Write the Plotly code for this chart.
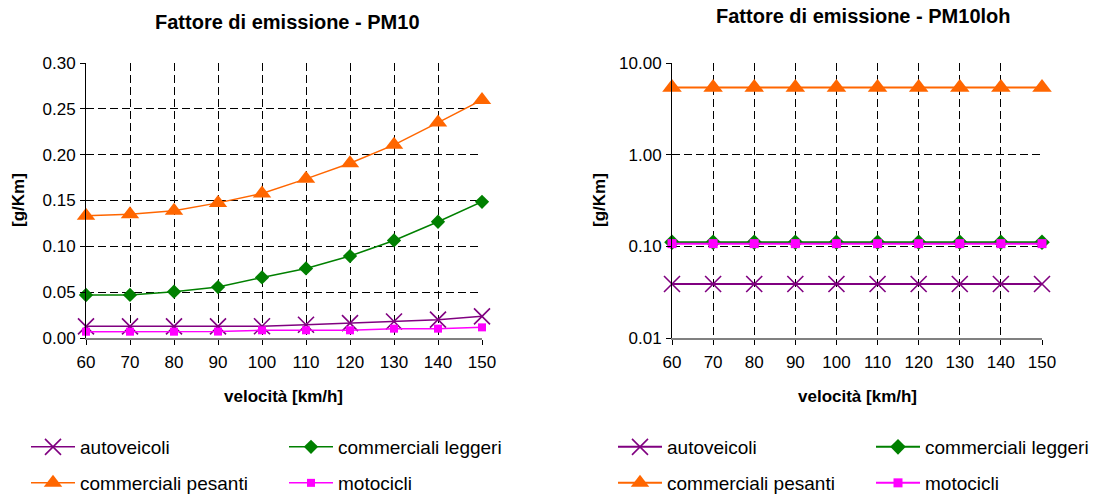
import plotly.graph_objects as go

# ---------------- data ----------------
speeds = [60, 70, 80, 90, 100, 110, 120, 130, 140, 150]
series_names = ["autoveicoli", "commerciali leggeri", "commerciali pesanti", "motocicli"]

pm10_autoveicoli = [0.0127, 0.0127, 0.0127, 0.0127, 0.0128, 0.0145, 0.0163, 0.0180, 0.0200, 0.0236]
pm10_comm_leggeri = [0.0469, 0.0470, 0.0505, 0.0556, 0.0661, 0.0759, 0.0894, 0.1064, 0.1268, 0.1486]
pm10_comm_pesanti = [0.1333, 0.1350, 0.1387, 0.1474, 0.1576, 0.1736, 0.1907, 0.2107, 0.2350, 0.2597]
pm10_motocicli = [0.0069, 0.0069, 0.0069, 0.0070, 0.0084, 0.0084, 0.0084, 0.0102, 0.0102, 0.0116]

loh_autoveicoli = [0.0388] * 10
loh_comm_leggeri = [0.111] * 10
loh_comm_pesanti = [5.42] * 10
loh_motocicli = [0.107] * 10

left_y_ticks = [0.0, 0.05, 0.10, 0.15, 0.20, 0.25, 0.30]
right_y_ticks = [0.01, 0.1, 1, 10]
right_y_ticktext = ["0.01", "0.10", "1.00", "10.00"]

title_left = "Fattore di emissione - PM10"
title_right = "Fattore di emissione - PM10loh"
x_title = "velocità [km/h]"
y_title = "[g/Km]"

# ---------------- styles ----------------
FONT = "Arial, 'Liberation Sans', sans-serif"
colors = ["#800080", "#008000", "#FF6600", "#FF00FF"]
symbols = ["x-thin", "diamond", "triangle-up", "square"]
sizes_left = [16, 11, 16, 8]
sizes_right = [16, 12, 17, 9]

W, H = 1107, 496
def px_x(p):
    return p / W
def px_y(p):
    return 1 - p / H

fig = go.Figure()

left_data = [pm10_autoveicoli, pm10_comm_leggeri, pm10_comm_pesanti, pm10_motocicli]
right_data = [loh_autoveicoli, loh_comm_leggeri, loh_comm_pesanti, loh_motocicli]

legend_ids_left = ["legend", "legend2", "legend3", "legend4"]
legend_ids_right = ["legend5", "legend6", "legend7", "legend8"]

def marker_for(i, size):
    if symbols[i] == "x-thin":
        return dict(symbol="x-thin", size=size, color=colors[i],
                    line=dict(color=colors[i], width=1.6))
    return dict(symbol=symbols[i], size=size, color=colors[i],
                line=dict(width=0))

for i, name in enumerate(series_names):
    fig.add_trace(go.Scatter(
        x=speeds, y=left_data[i], name=name, mode="lines+markers",
        line=dict(color=colors[i], width=1.5),
        marker=marker_for(i, sizes_left[i]),
        xaxis="x", yaxis="y", cliponaxis=False,
        legend=legend_ids_left[i], showlegend=True,
    ))
for i, name in enumerate(series_names):
    fig.add_trace(go.Scatter(
        x=speeds, y=right_data[i], name=name, mode="lines+markers",
        line=dict(color=colors[i], width=2),
        marker=marker_for(i, sizes_right[i]),
        xaxis="x2", yaxis="y2", cliponaxis=False,
        legend=legend_ids_right[i], showlegend=True,
    ))

axis_common = dict(
    showgrid=True, gridcolor="black", gridwidth=1, griddash="8px,4px",
    zeroline=False, ticks="outside", ticklen=5, tickcolor="black",
    tickfont=dict(family=FONT, size=17, color="black"),
    automargin=False,
)

y_dom = [px_y(338), px_y(63)]
fig.update_layout(
    width=W, height=H,
    margin=dict(l=0, r=0, t=0, b=0, pad=0, autoexpand=False),
    showlegend=True,
    paper_bgcolor="white", plot_bgcolor="white",
    font=dict(family=FONT, color="black"),
    xaxis=dict(domain=[px_x(86), px_x(482)], range=[60, 150], tickvals=speeds,
               showline=True, linecolor="#808080", linewidth=2, anchor="y",
               ticklabelstandoff=3, **axis_common),
    yaxis=dict(domain=y_dom, range=[0, 0.30], tickvals=left_y_ticks, tickformat=".2f",
               showline=True, linecolor="black", linewidth=1, anchor="x",
               ticklabelstandoff=1, **axis_common),
    xaxis2=dict(domain=[px_x(672), px_x(1042)], range=[60, 150], tickvals=speeds,
                showline=True, linecolor="#808080", linewidth=2, anchor="y2",
                ticklabelstandoff=3, **axis_common),
    yaxis2=dict(domain=y_dom, type="log", range=[-2, 1], tickvals=right_y_ticks,
                ticktext=right_y_ticktext,
                showline=True, linecolor="black", linewidth=1, anchor="x2",
                ticklabelstandoff=1, **axis_common),
)

# legends (one per entry, laid out as a 2x2 grid under each chart)
leg_font = dict(family=FONT, size=19, color="black")
ITEM_W = 44
text_x = [80, 338, 80, 338]
row_y = [447, 447, 483, 483]
for i in range(4):
    for ids, off in ((legend_ids_left, 0), (legend_ids_right, 587)):
        fig.layout[ids[i]] = dict(
            x=px_x(text_x[i] + off - (ITEM_W + 10)), y=px_y(row_y[i]),
            xanchor="left", yanchor="middle",
            font=leg_font, bgcolor="rgba(0,0,0,0)", borderwidth=0,
            orientation="v", itemwidth=ITEM_W, visible=True,
        )

ann = []
ann.append(dict(text="<b>%s</b>" % title_left, x=px_x(287), y=px_y(22), xref="paper", yref="paper",
                showarrow=False, xanchor="center", yanchor="middle",
                font=dict(family=FONT, size=20, color="black")))
ann.append(dict(text="<b>%s</b>" % title_right, x=px_x(863), y=px_y(16), xref="paper", yref="paper",
                showarrow=False, xanchor="center", yanchor="middle",
                font=dict(family=FONT, size=20, color="black")))
for cx in (283, 857):
    ann.append(dict(text="<b>%s</b>" % x_title, x=px_x(cx), y=px_y(396), xref="paper", yref="paper",
                    showarrow=False, xanchor="center", yanchor="middle",
                    font=dict(family=FONT, size=17, color="black")))
for cx in (18, 599):
    ann.append(dict(text="<b>%s</b>" % y_title, x=px_x(cx), y=px_y(200), xref="paper", yref="paper",
                    showarrow=False, xanchor="center", yanchor="middle", textangle=-90,
                    font=dict(family=FONT, size=17, color="black")))
fig.update_layout(annotations=ann)

fig.write_html("out.html")
